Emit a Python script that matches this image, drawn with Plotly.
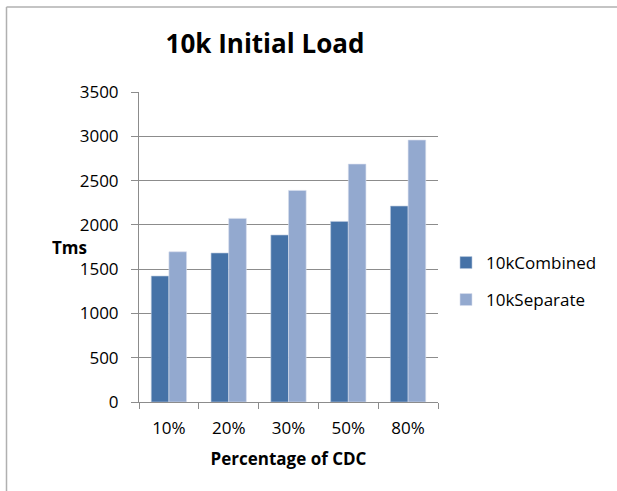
import plotly.graph_objects as go

categories = ["10%", "20%", "30%", "50%", "80%"]
combined = [1422, 1682, 1885, 2039, 2212]
separate = [1696, 2073, 2389, 2686, 2957]
y_ticks = [0, 500, 1000, 1500, 2000, 2500, 3000, 3500]

W, H = 617, 491
ML, MR, MT, MB = 139, 179, 92, 89
PW, PH = W - ML - MR, H - MT - MB

FONT = "Open Sans"
GRID = "#8c8c8c"

fig = go.Figure()
fig.add_bar(name="10kCombined", x=categories, y=combined, legend="legend",
            marker=dict(color="#4572A7", line=dict(color="#b8c7de", width=0.6)))
fig.add_bar(name="10kSeparate", x=categories, y=separate, legend="legend2",
            marker=dict(color="#93A9CF", line=dict(color="#d6deec", width=0.6)))

def px_x(p):
    return (p - ML) / PW

def px_y(p):
    return (H - MB - p) / PH

leg_common = dict(xanchor="left", yanchor="middle",
                  font=dict(family=FONT, size=17, color="#000000"),
                  itemwidth=30, bgcolor="rgba(0,0,0,0)")

fig.update_layout(
    width=W, height=H,
    margin=dict(l=ML, r=MR, t=MT, b=MB),
    paper_bgcolor="white", plot_bgcolor="white",
    barmode="group", bargap=0.41, bargroupgap=0,
    font=dict(family=FONT, color="#000000", size=17),
    title=dict(text="<b>10k Initial Load</b>", x=265 / W, xanchor="center",
               xref="container", y=1 - 44 / H, yanchor="middle",
               font=dict(family=FONT, size=26, color="#000000")),
    showlegend=True,
    legend=dict(x=px_x(446), y=px_y(263), **leg_common),
    legend2=dict(x=px_x(446), y=px_y(300), **leg_common),
    xaxis=dict(showgrid=False, showline=True, linecolor=GRID, linewidth=1,
               ticks="outside", ticklen=6, tickcolor=GRID, tickson="boundaries",
               tickfont=dict(family=FONT, size=17), ticklabelstandoff=11,
               title=dict(text="<b>Percentage of CDC</b>", standoff=14,
                          font=dict(family=FONT, size=17))),
    yaxis=dict(range=[0, 3500], tickvals=y_ticks, showgrid=True, gridcolor=GRID,
               gridwidth=1, showline=True, linecolor=GRID, linewidth=1,
               ticks="outside", ticklen=7, tickcolor=GRID, zeroline=False,
               tickfont=dict(family=FONT, size=17), ticklabelstandoff=9),
    annotations=[dict(text="<b>Tms</b>", x=px_x(50), y=px_y(248), xref="paper",
                      yref="paper", showarrow=False,
                      font=dict(family=FONT, size=17, color="#000000"))],
    shapes=[
        dict(type="line", xref="paper", yref="paper", x0=px_x(6.5), x1=px_x(6.5),
             y0=px_y(7), y1=px_y(H + 5), line=dict(color="#b0b0b0", width=1.5)),
        dict(type="line", xref="paper", yref="paper", x0=px_x(6.5), x1=px_x(W + 5),
             y0=px_y(7), y1=px_y(7), line=dict(color="#b0b0b0", width=1.5)),
    ],
)

fig.write_html("out.html", config={"displayModeBar": False},
               post_script="document.body.style.margin='0';")
